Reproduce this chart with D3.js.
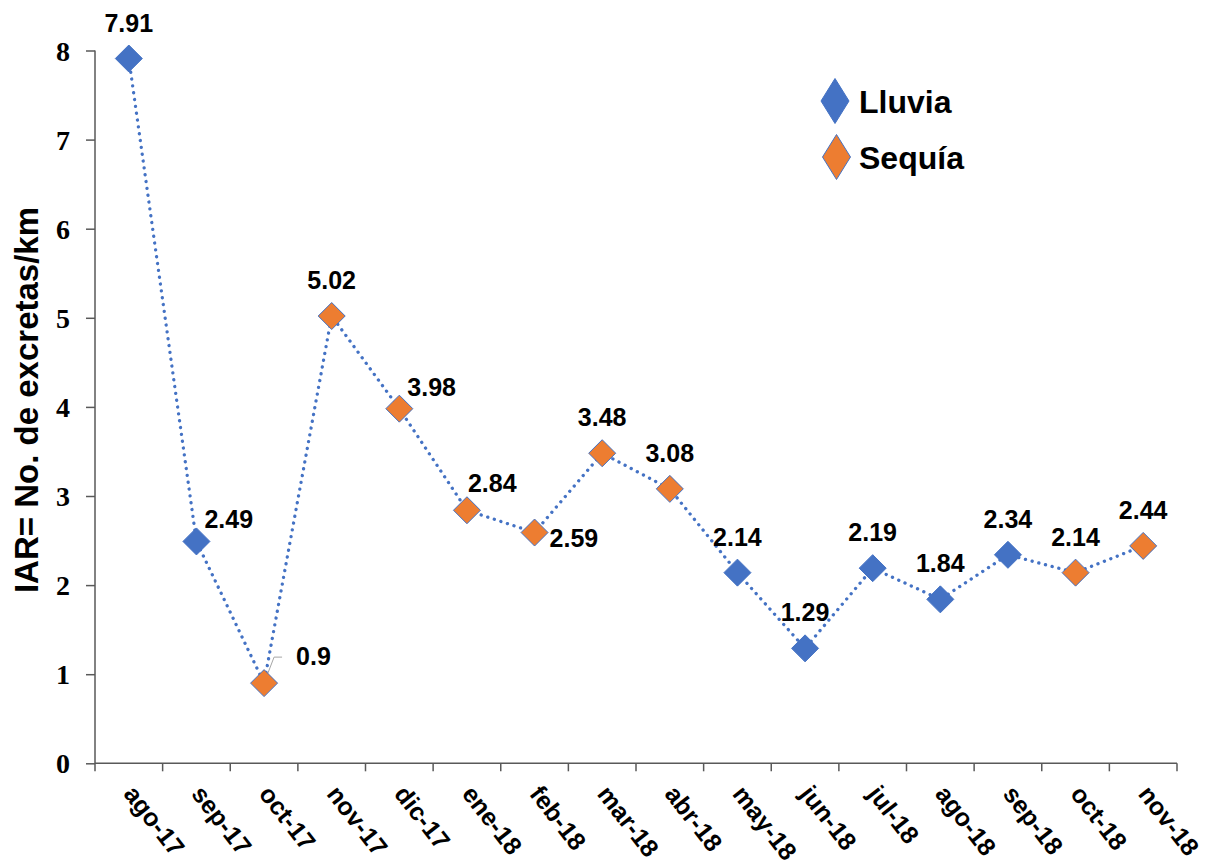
<!DOCTYPE html>
<html>
<head>
<meta charset="utf-8">
<script src="https://cdn.jsdelivr.net/npm/d3@7/dist/d3.min.js"></script>
<style>
  html, body { margin: 0; padding: 0; background: #ffffff; }
  svg { display: block; }
</style>
</head>
<body>
<svg id="chart" width="1205" height="868"></svg>
<script>
// ---- data ----
const months = ["ago-17","sep-17","oct-17","nov-17","dic-17","ene-18","feb-18","mar-18",
                "abr-18","may-18","jun-18","jul-18","ago-18","sep-18","oct-18","nov-18"];
const values = [7.91, 2.49, 0.9, 5.02, 3.98, 2.84, 2.59, 3.48, 3.08, 2.14, 1.29, 2.19, 1.84, 2.34, 2.14, 2.44];
const season = ["Lluvia","Lluvia","Sequía","Sequía","Sequía","Sequía","Sequía","Sequía",
                "Sequía","Lluvia","Lluvia","Lluvia","Lluvia","Lluvia","Sequía","Sequía"];
const labelPlacement = ["t","tr","leader","t","tr","tr2","br","t","t","t","t","t","t","t","t","t"];
const seriesNames = ["Lluvia","Sequía"];
const yTicks = [0,1,2,3,4,5,6,7,8];
const yTitle = "IAR= No. de excretas/km";

// ---- styles ----
const colors = { "Lluvia": "#4472C4", "Sequía": "#ED7D31" };
const svg = d3.select("#chart");
const mLeft = 95, mRight = 1177, mTop = 50.5, mBottom = 763.3;

const x = d3.scaleBand().domain(months).range([mLeft, mRight]).padding(0);
const y = d3.scaleLinear().domain([0, 8]).range([mBottom, mTop]);
const cx = m => x(m) + x.bandwidth() / 2;

// axes
const yAxis = svg.append("g").attr("transform", `translate(${mLeft},0)`)
  .call(d3.axisLeft(y).tickValues(yTicks).tickSize(9).tickPadding(16).tickFormat(d3.format("d")));
yAxis.select(".domain").attr("stroke", "#595959").attr("stroke-width", 1.5).attr("d", `M0,${mBottom}V${mTop}`);
yAxis.selectAll(".tick line").attr("stroke", "#595959").attr("stroke-width", 1.5);
yAxis.selectAll(".tick text")
  .attr("font-family", "'Liberation Serif','Times New Roman',serif")
  .attr("font-weight", "bold").attr("font-size", 28).attr("fill", "#000").attr("dy", "0.34em");

const xAxis = svg.append("g").attr("transform", `translate(0,${mBottom})`)
  .call(d3.axisBottom(x).tickSize(0).tickFormat(""));
xAxis.select(".domain").attr("stroke", "#595959").attr("stroke-width", 1.5).attr("d", `M${mLeft},0H${mRight}`);
xAxis.selectAll(".tick").remove();
// tick marks at band boundaries
const boundaries = months.map(m => x(m)).concat([mRight]);
svg.append("g").selectAll("line").data(boundaries).join("line")
  .attr("x1", d => d).attr("x2", d => d)
  .attr("y1", mBottom).attr("y2", mBottom + 8)
  .attr("stroke", "#595959").attr("stroke-width", 1.5);

// x labels rotated
svg.append("g").selectAll("text").data(months).join("text")
  .attr("transform", d => `translate(${cx(d) - 6},${mBottom + 31}) rotate(52)`)
  .attr("text-anchor", "start")
  .attr("font-family", "'Liberation Sans',Arial,sans-serif")
  .attr("font-weight", "bold").attr("font-size", 25).attr("fill", "#000")
  .text(d => d);

// y title
svg.append("text")
  .attr("transform", `translate(38,400) rotate(-90)`)
  .attr("text-anchor", "middle")
  .attr("font-family", "'Liberation Sans',Arial,sans-serif")
  .attr("font-weight", "bold").attr("font-size", 33).attr("fill", "#000")
  .text(yTitle);

// line
const pts = months.map((m, i) => ({ m, v: values[i], s: season[i], p: labelPlacement[i] }));
svg.append("path").datum(pts)
  .attr("d", d3.line().x(d => cx(d.m)).y(d => y(d.v)))
  .attr("fill", "none").attr("stroke", "#4472C4").attr("stroke-width", 3.3)
  .attr("stroke-dasharray", "0.1 6.8").attr("stroke-linecap", "round");

// leader line for 0.9
pts.filter(d => d.p === "leader").forEach(d => {
  const px = cx(d.m), py = y(d.v);
  svg.append("path")
    .attr("d", `M${px},${py}L${px + 10},${py - 26}H${px + 18}`)
    .attr("fill", "none").attr("stroke", "#A6A6A6").attr("stroke-width", 1);
});

// markers
const diamond = (h, w) => `M0,${-h}L${w},0L0,${h}L${-w},0Z`;
svg.append("g").selectAll("path").data(pts).join("path")
  .attr("transform", d => `translate(${cx(d.m)},${y(d.v)})`)
  .attr("d", diamond(13.5, 13.5))
  .attr("fill", d => colors[d.s]).attr("stroke", "#4472C4").attr("stroke-width", 1);

// data labels
const off = {
  t: [0, -27, "middle"],
  tr: [8, -13, "start"],
  tr2: [1, -18, "start"],
  br: [15, 14, "start"],
  leader: [32, -18, "start"]
};
svg.append("g").selectAll("text").data(pts).join("text")
  .attr("x", d => cx(d.m) + off[d.p][0])
  .attr("y", d => y(d.v) + off[d.p][1])
  .attr("text-anchor", d => off[d.p][2])
  .attr("font-family", "'Liberation Sans',Arial,sans-serif")
  .attr("font-weight", "bold").attr("font-size", 25).attr("fill", "#000")
  .text(d => d.v);

// legend
const leg = svg.append("g");
seriesNames.forEach((s, i) => {
  const ly = 101 + i * 56;
  leg.append("path")
    .attr("transform", `translate(${835 + i * 1.5},${ly})`)
    .attr("d", diamond(22.5, 14))
    .attr("fill", colors[s]).attr("stroke", "#4472C4").attr("stroke-width", 1);
  leg.append("text")
    .attr("x", 859).attr("y", ly + 12)
    .attr("font-family", "'Liberation Sans',Arial,sans-serif")
    .attr("font-weight", "bold").attr("font-size", 32).attr("fill", "#000")
    .text(s);
});
</script>
</body>
</html>
